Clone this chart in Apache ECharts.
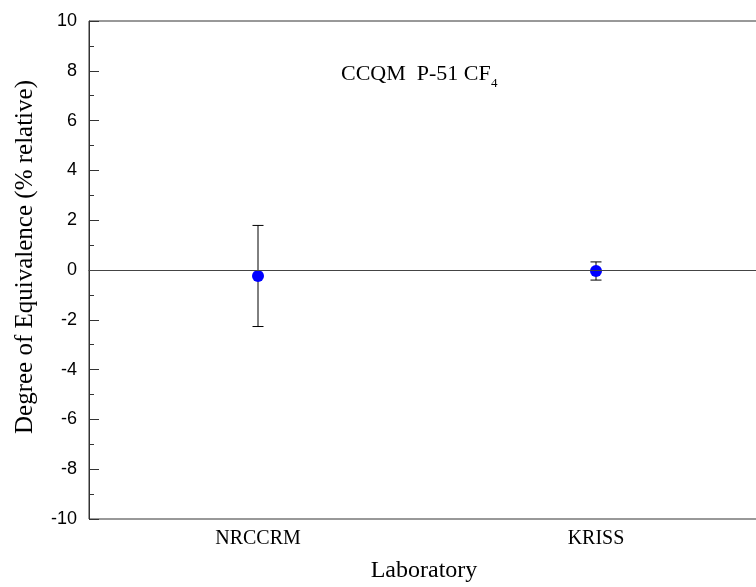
<!DOCTYPE html>
<html>
<head>
<meta charset="utf-8">
<script src="https://cdn.jsdelivr.net/npm/echarts@6/dist/echarts.min.js"></script>
<style>html,body{margin:0;padding:0;background:#fff;}#c{width:756px;height:587px;}</style>
</head>
<body>
<div id="c"></div>
<script>
var labs = ['NRCCRM', 'KRISS'];
var doe = [-0.24, -0.04];
var unc = [2.03, 0.365];
var yTicks = [-10, 10, 2];

var chart = echarts.init(document.getElementById('c'), null, {renderer: 'canvas'});
var serif = '"Liberation Serif", "Times New Roman", serif';
var sans = '"Liberation Sans", Arial, sans-serif';

chart.setOption({
  animation: false,
  backgroundColor: '#fff',
  grid: {left: 89, top: 21, bottom: 68, right: -9, outerBoundsMode: 'none', containLabel: false,
         show: true, borderColor: '#333', borderWidth: 1, backgroundColor: 'transparent'},
  xAxis: [{
    type: 'category', data: labs, boundaryGap: true,
    name: 'Laboratory', nameLocation: 'middle', nameGap: 40,
    nameTextStyle: {fontFamily: serif, fontSize: 24, color: '#000', padding: [0, 6, 0, 0]},
    axisLine: {lineStyle: {color: '#333', width: 1}},
    axisTick: {inside: true, alignWithLabel: true, length: 10, lineStyle: {color: '#333'}},
    axisLabel: {fontFamily: serif, fontSize: 20, color: '#000', margin: 10},
    splitLine: {show: false}
  }, {
    type: 'category', data: labs, boundaryGap: true, position: 'bottom',
    axisLine: {show: false},
    axisTick: {inside: true, alignWithLabel: false, length: 2, lineStyle: {color: '#333'}},
    axisLabel: {show: false},
    splitLine: {show: false}
  }],
  yAxis: {
    type: 'value', min: yTicks[0], max: yTicks[1], interval: yTicks[2],
    axisLine: {show: true, lineStyle: {color: '#333', width: 1}},
    axisTick: {show: true, inside: true, length: 10, lineStyle: {color: '#333'}},
    minorTick: {show: true, splitNumber: 2, length: 5, lineStyle: {color: '#333'}},
    axisLabel: {fontFamily: sans, fontSize: 18, color: '#000', margin: 12},
    splitLine: {show: false}
  },
  graphic: [
    {type: 'text', x: 25, y: 257, rotation: Math.PI / 2,
     style: {text: 'Degree of Equivalence (% relative)', font: '25px ' + serif, fill: '#000', align: 'center', verticalAlign: 'middle'}},
    {type: 'text', left: 341, top: 63, style: {text: 'CCQM  P-51 CF', font: '22px ' + serif, fill: '#000'}},
    {type: 'text', left: 491, top: 77, style: {text: '4', font: '13px ' + serif, fill: '#000'}}
  ],
  series: [{
    type: 'custom',
    xAxisIndex: 0,
    data: labs.map(function (l, i) { return [i, doe[i] - unc[i], doe[i] + unc[i]]; }),
    renderItem: function (params, api) {
      var lo = api.coord([api.value(0), api.value(1)]);
      var hi = api.coord([api.value(0), api.value(2)]);
      var w = 5.5;
      var st = {stroke: '#000', lineWidth: 1};
      return {type: 'group', children: [
        {type: 'line', shape: {x1: lo[0], y1: lo[1], x2: hi[0], y2: hi[1]}, style: st},
        {type: 'line', shape: {x1: lo[0] - w, y1: lo[1], x2: lo[0] + w, y2: lo[1]}, style: st},
        {type: 'line', shape: {x1: hi[0] - w, y1: hi[1], x2: hi[0] + w, y2: hi[1]}, style: st}
      ]};
    },
    z: 3
  }, {
    type: 'scatter',
    xAxisIndex: 0,
    data: labs.map(function (l, i) { return [i, doe[i]]; }),
    symbol: 'circle', symbolSize: 12,
    itemStyle: {color: '#0000ff', opacity: 1},
    markLine: {
      silent: true, symbol: 'none', label: {show: false},
      lineStyle: {color: '#444', width: 1, type: 'solid'},
      data: [{yAxis: 0}]
    },
    z: 4
  }]
});
</script>
</body>
</html>
